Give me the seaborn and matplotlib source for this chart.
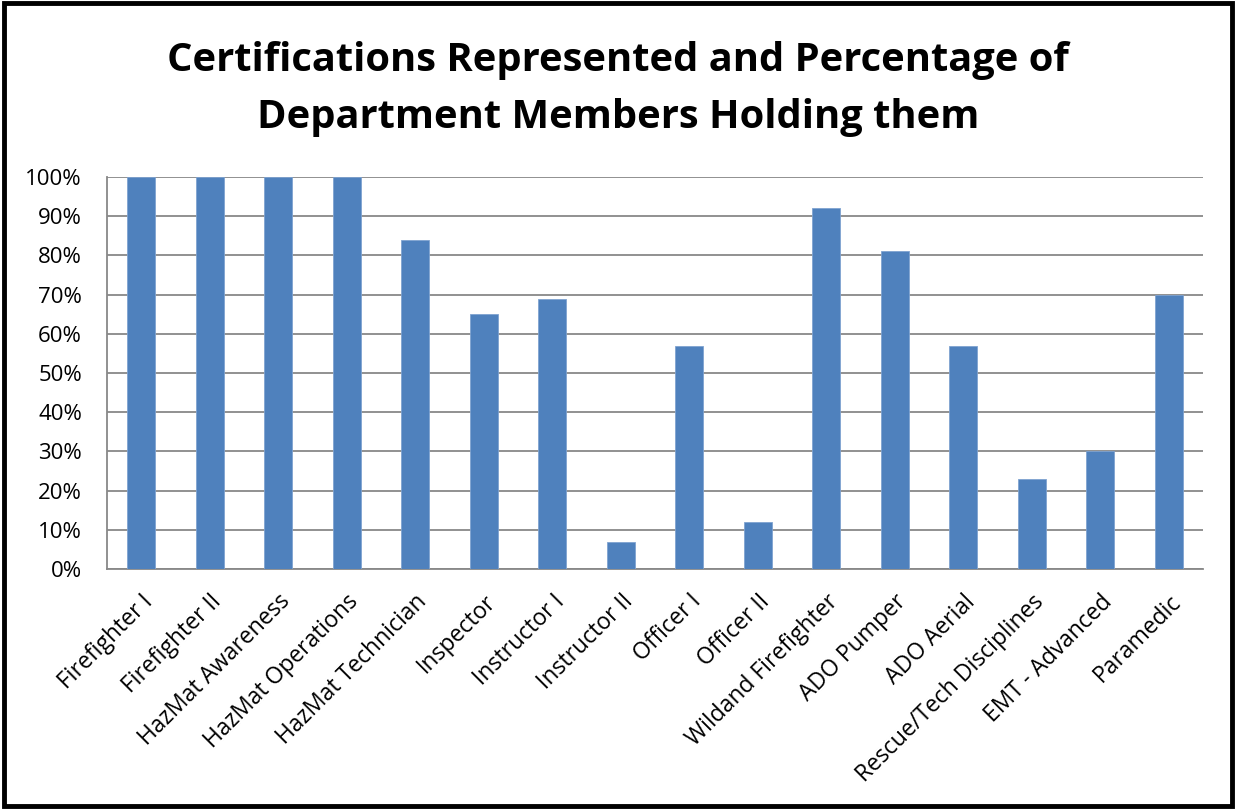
import matplotlib
matplotlib.use("Agg")
import matplotlib.pyplot as plt
from matplotlib.patches import Rectangle
from matplotlib.ticker import FuncFormatter, MultipleLocator
import seaborn as sns
import pandas as pd

certifications = [
    "Firefighter I", "Firefighter II", "HazMat Awareness", "HazMat Operations",
    "HazMat Technician", "Inspector", "Instructor I", "Instructor II",
    "Officer I", "Officer II", "Wildand Firefighter", "ADO Pumper",
    "ADO Aerial", "Rescue/Tech Disciplines", "EMT - Advanced", "Paramedic",
]
percent_holding = [100, 100, 100, 100, 84, 65, 69, 7, 57, 12, 92, 81, 57, 23, 30, 70]

title_lines = ["Certifications Represented and Percentage of",
               "Department Members Holding them"]

df = pd.DataFrame({"cert": certifications, "pct": percent_holding})

sns.set_style("white")
plt.rcParams["font.family"] = ["Open Sans", "DejaVu Sans"]
plt.rcParams["text.color"] = "black"
plt.rcParams["xtick.labelcolor"] = "black"
plt.rcParams["ytick.labelcolor"] = "black"

W, H = 1236, 809
fig = plt.figure(figsize=(W / 100, H / 100), dpi=100)
ax = fig.add_axes([107 / W, 1 - 569 / H, (1203 - 107) / W, (569 - 177) / H])

sns.barplot(data=df, x="cert", y="pct", color="#4F81BD", width=0.41,
            edgecolor="#7FA3D0", linewidth=0.6, saturation=1, ax=ax, zorder=3)

ax.set_ylim(0, 100)
ax.set_xlim(-0.5, len(certifications) - 0.5)
ax.yaxis.set_major_locator(MultipleLocator(10))
ax.yaxis.set_major_formatter(FuncFormatter(lambda v, _: f"{v:.0f}%"))
ax.grid(axis="y", color="#888888", linewidth=1.3, zorder=0)
ax.set_axisbelow(True)
ax.set_xlabel("")
ax.set_ylabel("")

for side in ["top", "right"]:
    ax.spines[side].set_visible(False)
for side in ["left", "bottom"]:
    ax.spines[side].set_color("#888888")
    ax.spines[side].set_linewidth(1.3)

# category boundary ticks on the x axis
ax.set_xticks([i - 0.5 for i in range(len(certifications) + 1)], minor=True)
ax.tick_params(axis="x", which="minor", length=5, width=1.3, color="#888888", direction="out")
ax.tick_params(axis="x", which="major", length=0, pad=15, labelcolor="black")
ax.tick_params(axis="y", length=5, width=1.3, color="#888888", direction="out", pad=13,
               labelsize=16, labelcolor="black")
ax.set_xticks(range(len(certifications)))
ax.set_xticklabels(certifications, rotation=45, ha="right", va="top",
                   rotation_mode="anchor", fontsize=16.5, color="black")

for line, base_y in zip(title_lines, [71, 128]):
    fig.text(0.5, 1 - base_y / H, line, ha="center", va="baseline",
             fontsize=28.7, fontweight="bold", color="black")

fig.patches.append(Rectangle((0.003, 0.004), 0.994, 0.992, transform=fig.transFigure,
                             fill=False, edgecolor="black", linewidth=3.5))

fig.savefig("out.png", dpi=100)
